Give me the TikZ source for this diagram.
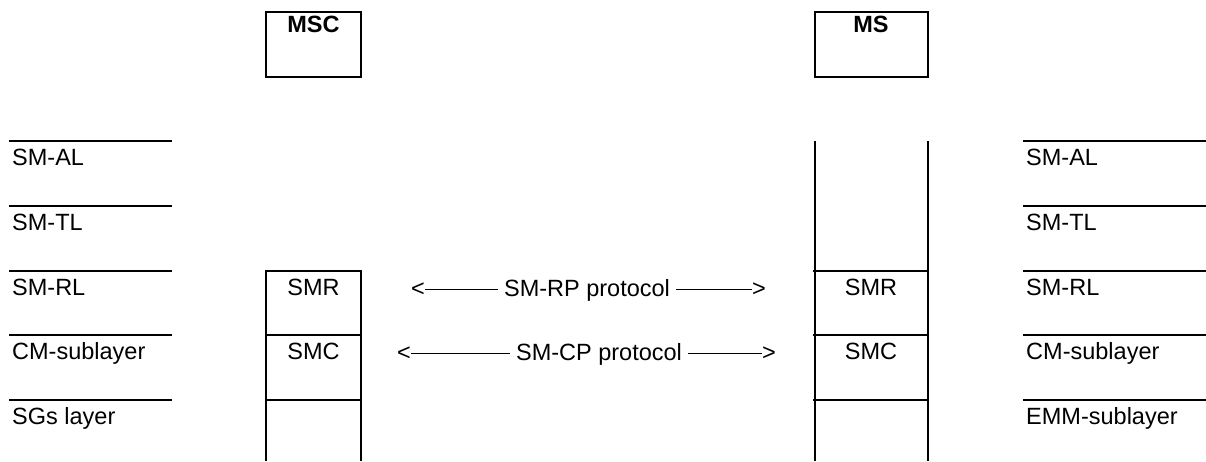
\documentclass[tikz,border=0pt]{standalone}
\usepackage{fontspec}
\setmainfont{Liberation Sans}
\usetikzlibrary{positioning}
\begin{document}
\begin{tikzpicture}[x=1pt,y=-1pt,font=\fontsize{23.5}{28}\selectfont,
  entity/.style={draw,line width=2pt,minimum width=95pt,minimum height=65pt,inner sep=0pt},
  layerline/.style={line width=2pt},
  layertext/.style={anchor=base west,inner sep=0pt},
  celltext/.style={anchor=base,inner sep=0pt},
  protolabel/.style={anchor=base,inner xsep=6pt,inner ysep=0pt},
  tip/.style={anchor=base,inner sep=0pt},
  protoline/.style={line width=1.2pt}]
\useasboundingbox (0,0) rectangle (1206,461);
% entities
\node[entity] (msc) at (313.5,44.5) {};
\node[entity,minimum width=113pt] (ms) at (871,44.5) {};
\node[below=5pt of msc.north,inner sep=0pt,font=\fontsize{23.5}{28}\selectfont\bfseries] (msct) {MSC};
\node[below=5pt of ms.north,inner sep=0pt,font=\fontsize{23.5}{28}\selectfont\bfseries] (mst) {MS};
% left layers
\draw[layerline] (9,141) -- (172,141);
\draw[layerline] (9,206) -- (172,206);
\draw[layerline] (9,271) -- (172,271);
\draw[layerline] (9,335) -- (172,335);
\draw[layerline] (9,400) -- (172,400);
\node[layertext] (lal) at (12,165) {SM-AL};
\node[layertext] (ltl) at (12,230) {SM-TL};
\node[layertext] (lrl) at (12,295) {SM-RL};
\node[layertext] (lcm) at (12,359) {CM-sublayer};
\node[layertext] (lsg) at (12,424) {SGs layer};
% right layers
\draw[layerline] (1023,141) -- (1206,141);
\draw[layerline] (1023,206) -- (1206,206);
\draw[layerline] (1023,271) -- (1206,271);
\draw[layerline] (1023,335) -- (1206,335);
\draw[layerline] (1023,400) -- (1206,400);
\node[layertext] (ral) at (1026,165) {SM-AL};
\node[layertext] (rtl) at (1026,230) {SM-TL};
\node[layertext] (rrl) at (1026,295) {SM-RL};
\node[layertext] (rcm) at (1026,359) {CM-sublayer};
\node[layertext] (remm) at (1026,424) {EMM-sublayer};
% MSC stack
\draw[layerline] (266,461) -- (266,271) -- (361,271) -- (361,461);
\draw[layerline] (266,335) -- (361,335);
\draw[layerline] (266,400) -- (361,400);
\node[celltext] (smr1) at (313.5,295) {SMR};
\node[celltext] (smc1) at (313.5,359) {SMC};
% MS stack
\draw[layerline] (815,141) -- (815,461);
\draw[layerline] (928,141) -- (928,461);
\draw[layerline] (813,271) -- (928,271);
\draw[layerline] (813,335) -- (928,335);
\draw[layerline] (813,400) -- (928,400);
\node[celltext] (smr2) at (871,295) {SMR};
\node[celltext] (smc2) at (871,359) {SMC};
% protocols
\node[tip] (rpl) at (418,296) {<};
\node[protolabel] (rp) at (587,296) {SM-RP protocol};
\node[tip] (rpr) at (759,296) {>};
\draw[protoline] (rpl.east) -- (rpl.east -| rp.west);
\draw[protoline] (rpr.west -| rp.east) -- (rpr.west);
\node[tip] (cpl) at (404,360) {<};
\node[protolabel] (cp) at (599,360) {SM-CP protocol};
\node[tip] (cpr) at (769,360) {>};
\draw[protoline] (cpl.east) -- (cpl.east -| cp.west);
\draw[protoline] (cpr.west -| cp.east) -- (cpr.west);
\end{tikzpicture}
\end{document}
